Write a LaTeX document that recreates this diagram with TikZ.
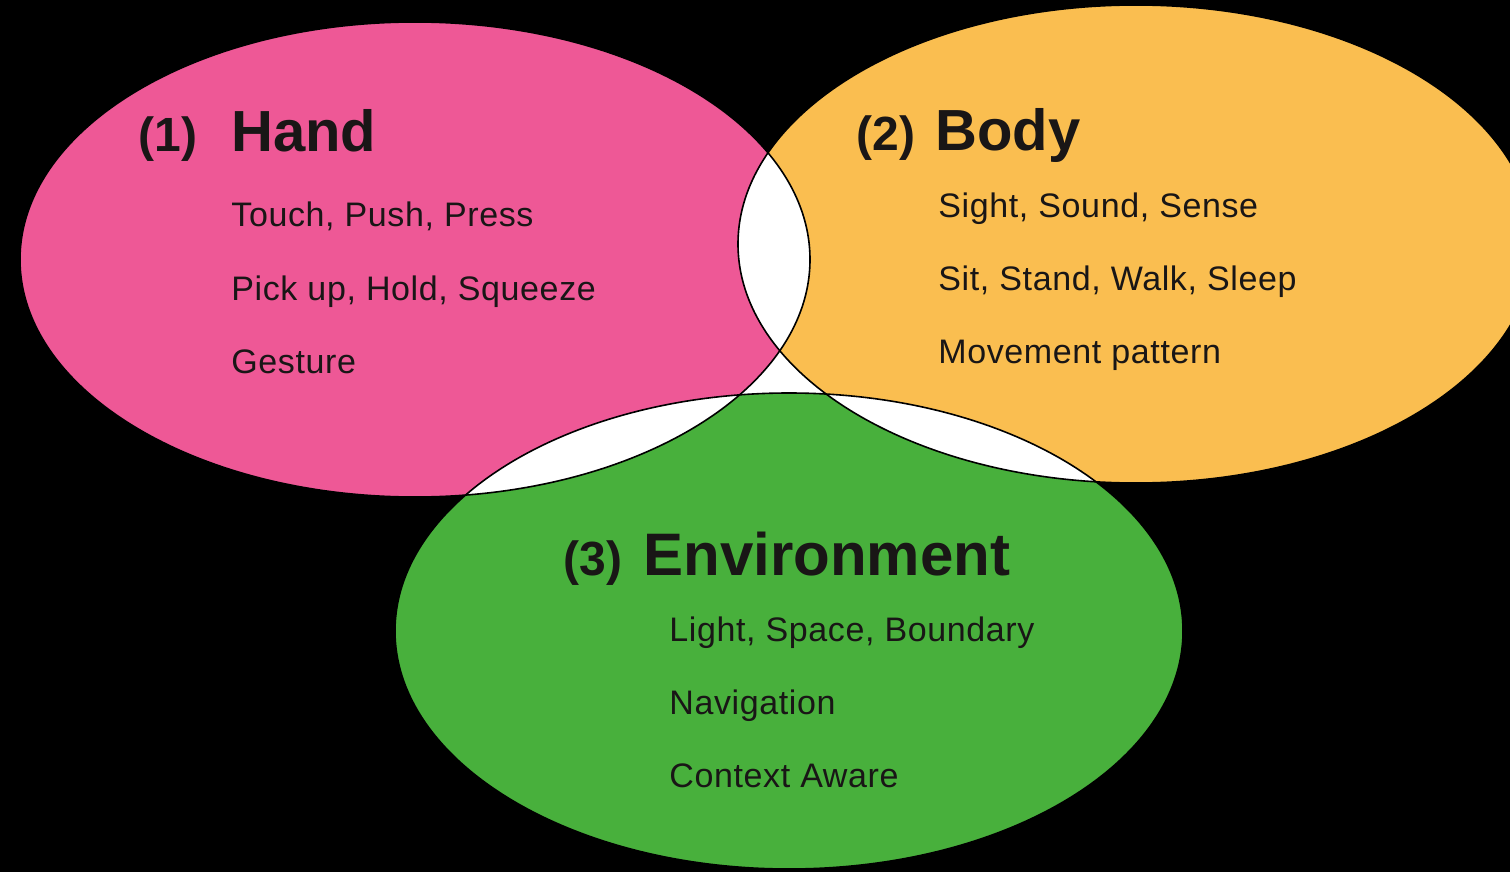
\documentclass[tikz,border=0pt]{standalone}
\usepackage{fontspec}
\setmainfont{Liberation Sans}
\newfontfamily\itemfont[LetterSpace=1.8]{Liberation Sans}
\definecolor{handpink}{RGB}{238,88,150}
\definecolor{bodyorange}{RGB}{250,190,80}
\definecolor{envgreen}{RGB}{72,176,60}
\definecolor{ink}{RGB}{25,22,22}
\begin{document}
\begin{tikzpicture}[x=0.5pt,y=-0.5pt,
  titletext/.style={anchor=base west, inner sep=0pt, font=\fontsize{29}{32}\selectfont\bfseries, text=ink},
  numtext/.style={anchor=base west, inner sep=0pt, font=\fontsize{24}{28}\selectfont\bfseries, text=ink},
  itemtext/.style={anchor=base west, inner sep=0pt, font=\itemfont\fontsize{17}{20}\selectfont, text=ink},
  rim/.style={draw=black, line width=0.8pt}]
\fill[black] (0,0) rectangle (1510,872);
\clip (0,0) rectangle (1510,872);
% central gap between the three sets is white
\fill[white] (415,259.5) -- (1136,244) -- (789,631) -- cycle;
% the three sets
\fill[handpink]   (415,259.5) ellipse [x radius=395, y radius=237.5];
\fill[bodyorange] (1136,244) ellipse [x radius=398, y radius=239];
\fill[envgreen]   (789,631) ellipse [x radius=394, y radius=238];
% overlaps in white
\begin{scope}
  \clip (415,259.5) ellipse [x radius=395, y radius=237.5];
  \fill[white] (1136,244) ellipse [x radius=398, y radius=239];
  \fill[white] (789,631) ellipse [x radius=394, y radius=238];
\end{scope}
\begin{scope}
  \clip (1136,244) ellipse [x radius=398, y radius=239];
  \fill[white] (789,631) ellipse [x radius=394, y radius=238];
\end{scope}
% outlines
\path[rim] (415,259.5) ellipse [x radius=395, y radius=237.5];
\path[rim] (1136,244) ellipse [x radius=398, y radius=239];
\path[rim] (789,631) ellipse [x radius=394, y radius=238];
% Hand
\node[numtext]   (n1) at (138,152) {(1)};
\node[titletext] (t1) at (231,152) {Hand};
\node[itemtext]  (h1) at (231,227) {Touch, Push, Press};
\node[itemtext]  (h2) at (231,300) {Pick up, Hold, Squeeze};
\node[itemtext]  (h3) at (231,373) {Gesture};
% Body
\node[numtext]   (n2) at (856,150) {(2)};
\node[titletext] (t2) at (935,150) {Body};
\node[itemtext]  (b1) at (938,217) {Sight, Sound, Sense};
\node[itemtext]  (b2) at (938,290) {Sit, Stand, Walk, Sleep};
\node[itemtext]  (b3) at (938,363) {Movement pattern};
% Environment
\node[numtext]   (n3) at (563,575) {(3)};
\node[titletext, font=\fontsize{30}{33}\selectfont\bfseries] (t3) at (643,575) {Environment};
\node[itemtext]  (e1) at (669,641) {Light, Space, Boundary};
\node[itemtext]  (e2) at (669,714) {Navigation};
\node[itemtext]  (e3) at (669,787) {Context Aware};
\end{tikzpicture}
\end{document}
